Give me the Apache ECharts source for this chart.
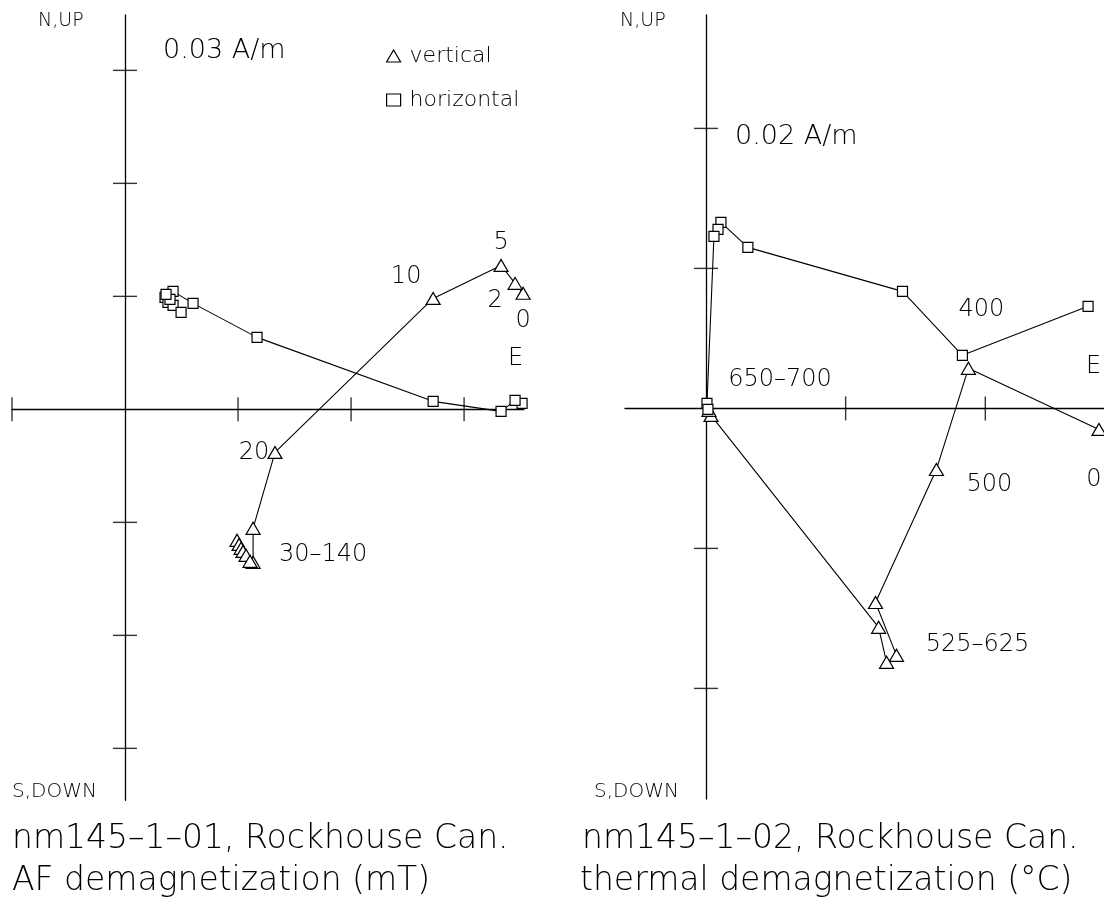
<!DOCTYPE html>
<html>
<head>
<meta charset="utf-8">
<script src="https://cdn.jsdelivr.net/npm/echarts@6/dist/echarts.min.js"></script>
<style>
  html, body { margin: 0; padding: 0; background: #fff; }
  #chart { width: 1104px; height: 905px; }
</style>
</head>
<body>
<div id="chart"></div>
<script>
// ---- nm145-1-01: AF demagnetization steps (mT) ----
const afSteps   = [0, 2, 5, 10, 20, 30, 40, 50, 60, 80, 100, 120, 140];
// vertical projection (triangles), A/m
const afVertX   = [0.03522, 0.03451, 0.03327, 0.02726, 0.01327, 0.01133, 0.01133, 0.00991, 0.01009, 0.01027, 0.01044, 0.01071, 0.01106];
const afVertY   = [0.01027, 0.01115, 0.01274, 0.00982, -0.00381, -0.01053, -0.01354, -0.01159, -0.01195, -0.01230, -0.01257, -0.01292, -0.01345];
// horizontal projection (squares), A/m
const afHorX    = [0.03513, 0.03451, 0.03327, 0.02726, 0.01168, 0.00602, 0.00425, 0.00354, 0.00380, 0.00425, 0.00496, 0.00398, 0.00363];
const afHorY    = [0.00053, 0.00080, -0.00018, 0.00071, 0.00637, 0.00938, 0.01044, 0.00991, 0.00947, 0.00920, 0.00858, 0.00973, 0.01018];

// ---- nm145-1-02: thermal demagnetization steps (°C) ----
const thSteps   = [0, 400, 500, 525, 550, 600, 625, 650, 700];
const thVertX   = [0.02814, 0.01879, 0.01650, 0.01214, 0.01364, 0.01293, 0.01236, 0.00036, 0.00021];
const thVertY   = [-0.00150, 0.00286, -0.00436, -0.01386, -0.01764, -0.01814, -0.01564, -0.00050, -0.00014];
const thHorX    = [0.02736, 0.01836, 0.01407, 0.00300, 0.00107, 0.00086, 0.00057, 0.00007, 0.00014];
const thHorY    = [0.00729, 0.00379, 0.00836, 0.01150, 0.01329, 0.01279, 0.01229, 0.00036, -0.00007];

// axis tick positions (A/m)
const afTicksX = [-0.01, 0.01, 0.02, 0.03];
const afTicksY = [-0.03, -0.02, -0.01, 0.01, 0.02, 0.03];
const thTicksX = [0.01, 0.02];
const thTicksY = [-0.02, -0.01, 0.01, 0.02];

// step annotations: series key, point index, text
const stepNotes = [
  { key: 'afV', i: 0, text: '0' },
  { key: 'afV', i: 1, text: '2' },
  { key: 'afV', i: 2, text: '5' },
  { key: 'afV', i: 3, text: '10' },
  { key: 'afV', i: 4, text: '20' },
  { key: 'afV', i: 5, text: '30–140' },
  { key: 'thH', i: 1, text: '400' },
  { key: 'thH', i: 7, text: '650–700' },
  { key: 'thV', i: 0, text: '0' },
  { key: 'thV', i: 2, text: '500' },
  { key: 'thV', i: 3, text: '525–625' }
];
// where each annotation sits relative to its point (px)
const noteOffsets = {
  'afV0': [0, 27], 'afV1': [-20, 17], 'afV2': [0, -23], 'afV3': [-27, -22],
  'afV4': [-21, 0], 'afV5': [70, 26],
  'thH1': [19, -46], 'thH7': [73, -24],
  'thV0': [-5, 50], 'thV2': [53, 15], 'thV3': [102, 42]
};

const FONT = 'DejaVu Sans';
const FW = 300;
const INK = '#000';

function buildData(key, xs, ys) {
  return xs.map((x, i) => {
    const note = stepNotes.find(n => n.key === key && n.i === i);
    const item = { value: [x, ys[i]] };
    if (note) {
      item.label = {
        show: true, position: 'inside', formatter: note.text,
        offset: noteOffsets[key + i], color: INK,
        fontFamily: FONT, fontWeight: FW, fontSize: 24
      };
    }
    return item;
  });
}

function axis(gridIndex, min, max) {
  return {
    type: 'value', gridIndex, min, max,
    axisLine: { onZero: true, lineStyle: { color: INK, width: 1.3 } },
    axisTick: { show: false },
    axisLabel: { show: false },
    splitLine: { show: false }
  };
}

function lineSeries(name, gi, symbol, size, data) {
  return {
    name, type: 'line', xAxisIndex: gi, yAxisIndex: gi,
    symbol, symbolSize: size, showSymbol: true,
    lineStyle: { color: INK, width: 1.1 },
    itemStyle: { color: '#fff', borderColor: INK, borderWidth: 1.2 },
    label: { show: false },
    data, z: 3, animation: false
  };
}

// tick marks that cross the axis line on both sides
function tickSeries(gi, ticksX, ticksY) {
  const pts = ticksX.map(t => ({ value: [t, 0], symbolSize: [1.4, 24] }))
    .concat(ticksY.map(t => ({ value: [0, t], symbolSize: [24, 1.4] })));
  return {
    type: 'scatter', xAxisIndex: gi, yAxisIndex: gi,
    symbol: 'rect', itemStyle: { color: INK },
    data: pts, z: 2, silent: true, animation: false
  };
}

const textStyle = (size) => ({ fill: INK, fontFamily: FONT, fontWeight: FW, fontSize: size });
function txt(left, top, text, size) {
  return { type: 'text', left, top, style: Object.assign({ text }, textStyle(size)) };
}

const chart = echarts.init(document.getElementById('chart'), null, { renderer: 'canvas' });

chart.setOption({
  backgroundColor: '#fff',
  animation: false,
  grid: [
    { left: 12, top: 15, width: 512, height: 785.35 },
    { left: 625, top: 15, width: 480.2, height: 784 }
  ],
  xAxis: [ axis(0, -0.01, 0.0353), axis(1, -0.0058, 0.0285) ],
  yAxis: [ axis(0, -0.0346, 0.0349), axis(1, -0.0279, 0.0281) ],
  legend: {
    left: 381, top: 40, orient: 'vertical', itemGap: 22,
    itemWidth: 14, itemHeight: 12,
    data: [
      { name: 'vertical', icon: 'triangle' },
      { name: 'horizontal', icon: 'rect' }
    ],
    itemStyle: { color: '#fff', borderColor: INK, borderWidth: 1.2 },
    textStyle: { color: INK, fontFamily: FONT, fontWeight: FW, fontSize: 22, padding: [0, 0, 0, 4] },
    selectedMode: false
  },
  series: [
    tickSeries(0, afTicksX, afTicksY),
    tickSeries(1, thTicksX, thTicksY),
    lineSeries('vertical', 0, 'triangle', [14, 12], buildData('afV', afVertX, afVertY)),
    lineSeries('horizontal', 0, 'rect', 10, buildData('afH', afHorX, afHorY)),
    lineSeries('vertical', 1, 'triangle', [14, 12], buildData('thV', thVertX, thVertY)),
    lineSeries('horizontal', 1, 'rect', 10, buildData('thH', thHorX, thHorY))
  ],
  graphic: [
    txt(38, 12, 'N,UP', 19),
    txt(12, 782, 'S,DOWN', 20),
    txt(163, 37, '0.03 A/m', 27),
    txt(508, 347, 'E', 24),
    txt(12, 823, 'nm145–1–01, Rockhouse Can.', 33),
    txt(12, 865, 'AF demagnetization (mT)', 33),
    txt(620, 12, 'N,UP', 19),
    txt(594, 782, 'S,DOWN', 20),
    txt(735, 123, '0.02 A/m', 27),
    txt(1086, 355, 'E', 24),
    txt(582, 823, 'nm145–1–02, Rockhouse Can.', 33),
    txt(580, 865, 'thermal demagnetization (°C)', 33)
  ]
});
</script>
</body>
</html>
